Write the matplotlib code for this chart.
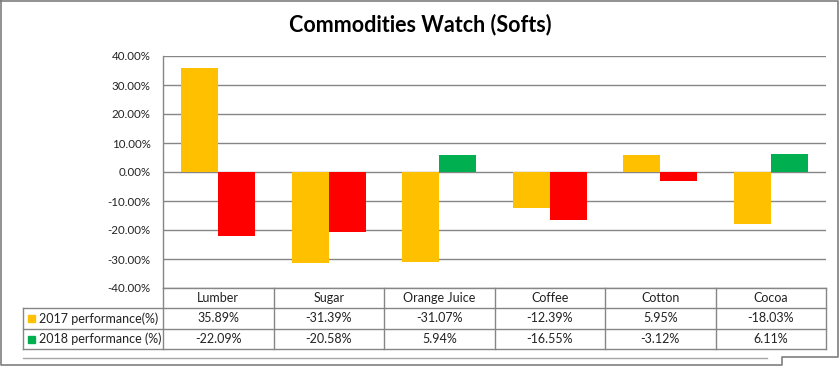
import matplotlib
matplotlib.use("Agg")
import matplotlib.pyplot as plt
from matplotlib.lines import Line2D
from matplotlib.patches import Rectangle
import numpy as np

title = "Commodities Watch (Softs)"
categories = ["Lumber", "Sugar", "Orange Juice", "Coffee", "Cotton", "Cocoa"]
series_names = ["2017 performance(%)", "2018 performance (%)"]
perf_2017 = [35.89, -31.39, -31.07, -12.39, 5.95, -18.03]
perf_2018 = [-22.09, -20.58, 5.94, -16.55, -3.12, 6.11]
y_ticks = [40, 30, 20, 10, 0, -10, -20, -30, -40]

C2017 = "#FFC000"
C_POS = "#00B050"
C_NEG = "#FF0000"
GRID = "#868686"
TXT = "#222222"

W, H = 840, 366
plt.rcParams['font.family'] = ['Lato', 'DejaVu Sans']
fig = plt.figure(figsize=(W / 100, H / 100), dpi=100)

def fx(x):
    return x / W

def fy(y):
    return 1 - y / H

L, R, T, B = 163, 826, 56, 288
ax = fig.add_axes([fx(L), fy(B), fx(R) - fx(L), fy(T) - fy(B)])
n = len(categories)
x = np.arange(n)
w = 0.335
ax.bar(x - w / 2, perf_2017, width=w, color=C2017, zorder=3)
ax.bar(x + w / 2, perf_2018, width=w,
       color=[C_POS if v >= 0 else C_NEG for v in perf_2018], zorder=3)
ax.set_xlim(-0.5, n - 0.5)
ax.set_ylim(-40, 40)
ax.set_yticks(y_ticks)
ax.set_yticklabels([f"{t:.2f}%" for t in y_ticks], fontsize=8.3, color=TXT)
ax.tick_params(axis='y', length=0, pad=9)
ax.set_xticks([])
ax.yaxis.grid(True, color=GRID, linewidth=1.0, zorder=0)
for s in ["top", "right", "bottom"]:
    ax.spines[s].set_visible(False)
ax.spines["left"].set_color(GRID)
ax.spines["left"].set_linewidth(1.0)

fig.text(0.5, fy(25), title, ha="center", va="center", fontsize=15.5,
         fontweight="bold", color="black")

# data table
col_x = [L + (R - L) * i / n for i in range(n + 1)]
row_y = [288, 308, 329, 349]
tl = 23
FS = 9

def hline(y, x0, x1, c=GRID, lw=1.0):
    fig.add_artist(Line2D([fx(x0), fx(x1)], [fy(y), fy(y)], color=c, lw=lw))

def vline(x, y0, y1, c=GRID, lw=1.0):
    fig.add_artist(Line2D([fx(x), fx(x)], [fy(y0), fy(y1)], color=c, lw=lw))

hline(row_y[0], L, R)
hline(row_y[1], tl, R)
hline(row_y[2], tl, R)
hline(row_y[3], tl, R)
vline(tl, row_y[1], row_y[3])
for cx in col_x:
    vline(cx, row_y[0], row_y[3])

for i, c in enumerate(categories):
    xc = (col_x[i] + col_x[i + 1]) / 2
    fig.text(fx(xc), fy((row_y[0] + row_y[1]) / 2), c, ha="center", va="center",
             fontsize=FS, color=TXT)
    fig.text(fx(xc), fy((row_y[1] + row_y[2]) / 2), f"{perf_2017[i]:.2f}%",
             ha="center", va="center", fontsize=FS, color=TXT)
    fig.text(fx(xc), fy((row_y[2] + row_y[3]) / 2), f"{perf_2018[i]:.2f}%",
             ha="center", va="center", fontsize=FS, color=TXT)

for j, (name, col) in enumerate(zip(series_names, [C2017, C_POS])):
    yc = (row_y[j + 1] + row_y[j + 2]) / 2
    fig.add_artist(Rectangle((fx(28), fy(yc + 3.5)), fx(7), 7 / H, color=col,
                             transform=fig.transFigure))
    fig.text(fx(39), fy(yc), name, ha="left", va="center", fontsize=FS,
             color=TXT)

# outer border (Excel-like)
bx = [1, 1, 782, 782, 838, 838, 1]
by = [1, 365, 365, 357, 357, 1, 1]
fig.add_artist(Line2D([fx(v) for v in bx], [fy(v) for v in by], color="#7F7F7F", lw=1.2))
hline(358, tl, 767, c="#A6A6A6", lw=1.0)

fig.savefig("out.png", dpi=100, facecolor="white")
